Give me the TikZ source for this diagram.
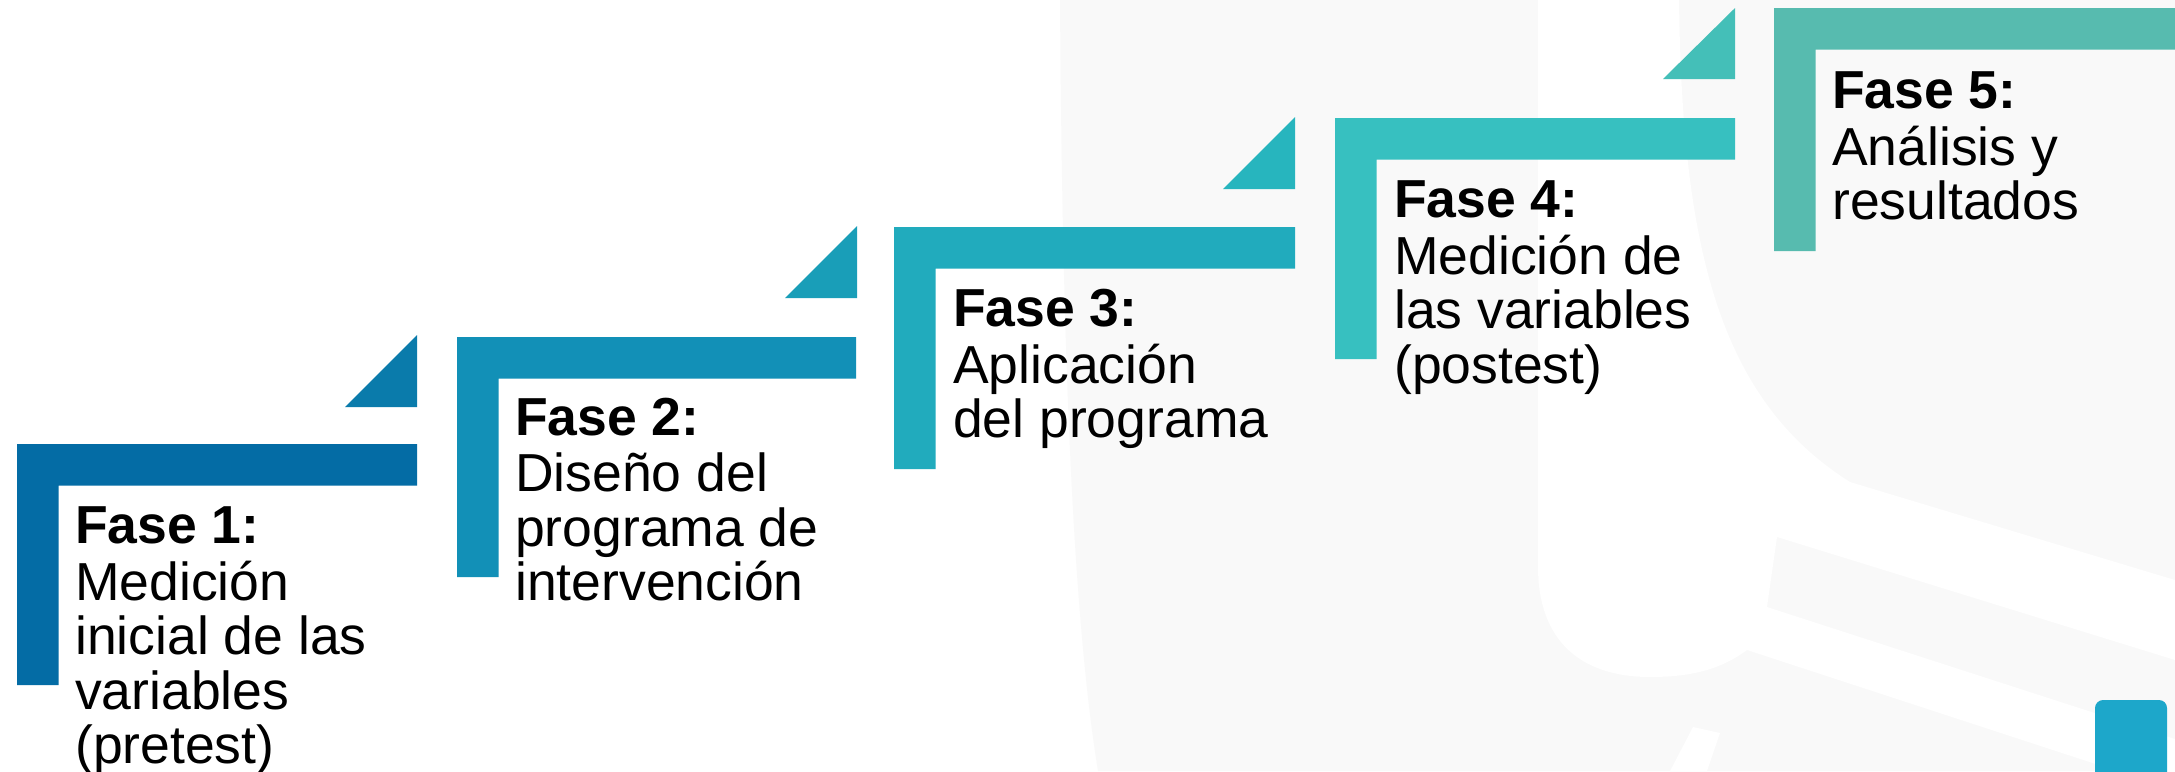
\documentclass[tikz,border=0pt]{standalone}
\usepackage{fontspec}
\setmainfont{Liberation Sans}
\definecolor{wmgray}{HTML}{F9F9F9}
\definecolor{cA}{HTML}{046CA5}
\definecolor{tA}{HTML}{0A7BAB}
\definecolor{cB}{HTML}{1290B7}
\definecolor{tB}{HTML}{199EB8}
\definecolor{cC}{HTML}{21ABBD}
\definecolor{tC}{HTML}{27B5BE}
\definecolor{cD}{HTML}{37C0C0}
\definecolor{tD}{HTML}{44BFB8}
\definecolor{cE}{HTML}{57BBAF}
\definecolor{sq}{HTML}{1DA7CA}
\tikzset{
  phase/.style={anchor=north west, align=left, inner sep=0pt, text=black,
                font=\fontsize{53.5}{54.5}\selectfont},
}
\begin{document}
\begin{tikzpicture}[x=1pt,y=-1pt]
\useasboundingbox (0,0) rectangle (2175,771);
% background and watermark
\fill[white] (0,0) rectangle (2175,771);
\fill[wmgray] (1060,0) -- (2175,0) -- (2175,771) -- (1098,771)
   .. controls (1070,600) and (1062,300) .. (1060,0) -- cycle;
\fill[white] (1538,0) -- (1679,0) .. controls (1682,250) and (1720,400) .. (1850,482)
   -- (2175,580) -- (2175,660) -- (1777,537) -- (1767,607) -- (2175,739)
   -- (2175,790) -- (1747,650)
   .. controls (1720,670) and (1690,677) .. (1650,677)
   .. controls (1580,677) and (1538,640) .. (1538,567) -- cycle;
\fill[white] (1693,727) -- (1720,733) -- (1707,771) -- (1670,771) -- cycle;
\fill[sq, rounded corners=8pt] (2095,700) rectangle (2167,790);
% brackets
\fill[cA] (17,444) -- (417,444) -- (417,485.5) -- (58.5,485.5) -- (58.5,685) -- (17,685) -- cycle;
\fill[cB] (457,337) -- (856,337) -- (856,378.5) -- (498.5,378.5) -- (498.5,577) -- (457,577) -- cycle;
\fill[cC] (894,227) -- (1295,227) -- (1295,268.5) -- (935.5,268.5) -- (935.5,469) -- (894,469) -- cycle;
\fill[cD] (1335,118) -- (1735,118) -- (1735,159.5) -- (1376.5,159.5) -- (1376.5,359) -- (1335,359) -- cycle;
\fill[cE] (1774,8) -- (2175,8) -- (2175,49.5) -- (1815.5,49.5) -- (1815.5,251) -- (1774,251) -- cycle;
% triangles
\fill[tA] (345,407) -- (417,407) -- (417,335) -- cycle;
\fill[tB] (785,298) -- (857,298) -- (857,226) -- cycle;
\fill[tC] (1223,189) -- (1295,189) -- (1295,117) -- cycle;
\fill[tD] (1663,79) -- (1735,79) -- (1735,8) -- cycle;
% texts
\node[phase] (f1) at (75,505.35) {\strut\textbf{Fase 1:}\\Medición\\inicial de las\\variables\\(pretest)};
\node[phase] (f2) at (515,397.35) {\strut\textbf{Fase 2:}\\Diseño del\\programa de\\intervención};
\node[phase] (f3) at (953,288.35) {\strut\textbf{Fase 3:}\\Aplicación\\del programa};
\node[phase] (f4) at (1394,179.35) {\strut\textbf{Fase 4:}\\Medición de\\las variables\\(postest)};
\node[phase] (f5) at (1832,70.35) {\strut\textbf{Fase 5:}\\Análisis y\\resultados};
\end{tikzpicture}
\end{document}
